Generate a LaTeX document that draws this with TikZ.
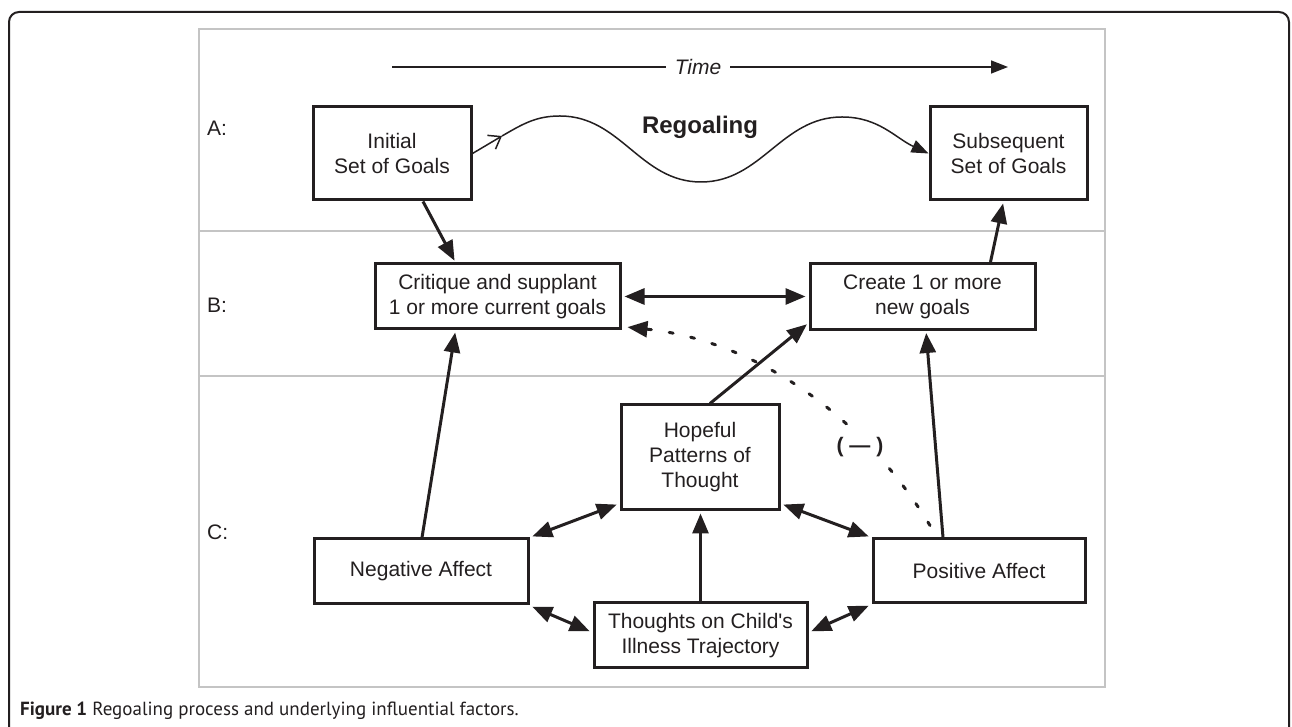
\documentclass[tikz,border=0pt]{standalone}
\usepackage{fontspec}
\setmainfont{Liberation Sans}
\newfontfamily\capfont{PT Sans}
\usetikzlibrary{arrows.meta,calc}
\definecolor{ink}{HTML}{231F20}
\definecolor{rule}{HTML}{C4C4C4}

\begin{document}
\begin{tikzpicture}[
  x=1pt,y=1pt,
  every node/.style={font=\fontsize{21}{25}\selectfont,text=ink,inner sep=0pt},
  box/.style={draw=ink,line width=3pt,align=center},
  edge/.style={-{Triangle[length=20pt,width=16pt]},line width=3pt,draw=ink,shorten >=2pt},
  bedge/.style={{Triangle[length=20pt,width=16pt]}-{Triangle[length=20pt,width=16pt]},line width=3pt,draw=ink,shorten <=3pt,shorten >=3pt},
  dedge/.style={-{Triangle[length=20pt,width=16pt]},line width=3pt,draw=ink,line cap=round,dash pattern=on 4pt off 18pt},
  wave/.style={line width=1.5pt,draw=ink},
  panel/.style={draw=rule,line width=1.5pt}
]
% Frames
\useasboundingbox (0,0) rectangle (1292,727);
\draw[ink,line width=2pt,rounded corners=10pt] (9,0) -- (9,715) -- (1289,715) -- (1289,0);
\draw[panel] (199,40) rectangle (1105,698);
\draw[panel] (199,496) -- (1105,496);
\draw[panel] (199,351) -- (1105,351);
% Row labels
\node[anchor=west] (lA) at (207,599) {A:};
\node[anchor=west] (lB) at (207,422) {B:};
\node[anchor=west] (lC) at (207,195) {C:};
% Row A
\node[box,minimum width=158pt,minimum height=93pt] (init) at (392,573.5) {Initial\\Set of Goals};
\node[box,minimum width=157pt,minimum height=93pt] (subs) at (1008.5,573.5) {Subsequent\\Set of Goals};
\node[font=\fontsize{24}{28}\selectfont\bfseries] (rego) at (700,600) {Regoaling};
% Time axis
\coordinate (tstart) at (392,660);
\coordinate (tend) at (1008,660);
\draw[ink,line width=1.5pt,-{Triangle[length=17pt,width=13pt]}] (tstart) -- (tend);
\node[fill=white,inner xsep=9pt,inner ysep=2pt,font=\fontsize{21}{25}\selectfont\itshape] (time) at (698,660) {Time};
% Regoaling wave
\coordinate (wbend) at (502,591);
\draw[wave,-{Straight Barb[length=11pt,width=16pt]}] (init.east) -- (wbend);
\draw[wave,-{Triangle[length=17pt,width=13pt]}] (wbend) to[out=30,in=180] (560,611) to[out=0,in=180] (701,545) to[out=0,in=180] (842,610) to[out=0,in=155] (subs.west);
% Row B
\node[box,minimum width=245pt,minimum height=65pt] (crit) at (497.5,430.5) {Critique and supplant\\1 or more current goals};
\node[box,minimum width=225pt,minimum height=66pt] (newg) at (922.5,430.5) {Create 1 or more\\new goals};
% Row C
\node[box,minimum width=158pt,minimum height=105pt] (hope) at (700,269.5) {Hopeful\\Patterns of\\Thought};
\node[box,minimum width=214pt,minimum height=65pt] (neg) at (421,155.5) {Negative Affect};
\node[box,minimum width=212pt,minimum height=64pt] (pos) at (979,156) {Positive Affect};
\node[box,minimum width=213pt,minimum height=65pt] (traj) at (700.5,91.5) {Thoughts on Child\textquotesingle s\\Illness Trajectory};
% Connections
\draw[edge] ([xshift=31pt]init.south) -- ([xshift=-42pt]crit.north);
\draw[edge] ([xshift=1pt]neg.north) -- ([xshift=-42pt]crit.south);
\draw[bedge] (crit.east) -- (newg.west);
\draw[edge] ([xshift=68pt]newg.north) -- ([xshift=-5pt]subs.south);
\draw[edge] ([xshift=10pt]hope.north) -- ([yshift=8pt]newg.south west);
\draw[edge] ([xshift=-36pt]pos.north) -- ([xshift=3.5pt]newg.south);
\draw[bedge] (neg.north east) -- ([yshift=8pt]hope.south west);
\draw[bedge] ([yshift=8pt]hope.south east) -- (pos.north west);
\draw[bedge] (neg.south east) -- ([yshift=3pt]traj.west);
\draw[bedge] ([yshift=3pt]traj.east) -- (pos.south west);
\draw[edge] (traj.north) -- (traj.north |- hope.south);
% Negative link
\draw[dedge,shorten >=6pt] ([xshift=-49pt,yshift=12pt]pos.north) .. controls (860,317) and (750,387) .. ([yshift=4pt]crit.south east);
\node[font=\fontsize{21}{25}\selectfont\bfseries,fill=white,inner sep=2pt] (minus) at (860,280) {( \textemdash\ )};
% Caption
\node[anchor=base west,font=\capfont\fontsize{19}{23}\selectfont] (cap) at (20,11) {\textbf{Figure 1} Regoaling process and underlying influential factors.};
\end{tikzpicture}
\end{document}
